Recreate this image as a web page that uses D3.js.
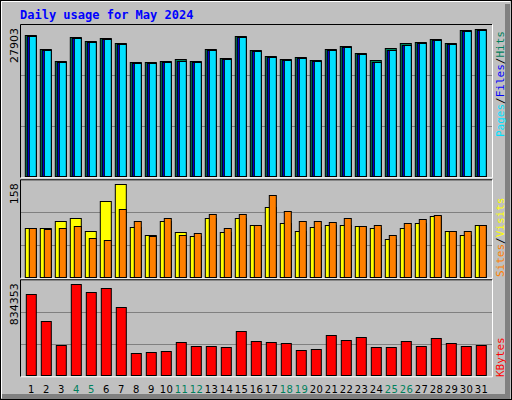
<!DOCTYPE html>
<html><head><meta charset="utf-8">
<script src="https://cdn.jsdelivr.net/npm/d3@7"></script>
<style>body{margin:0;background:#fff}</style>
</head><body><div class="chart"></div>
<script>
// data
var days = d3.range(1, 32);
var weekend = [4, 5, 11, 12, 18, 19, 25, 26];
var hits = [26826,24106,21828,26384,25624,26194,25245,21638,21638,21828,22208,21828,24106,22398,26573,23916,22777,22208,22587,22018,24106,24675,23346,22018,24296,25245,25435,26004,25245,27712,27903];
var files = [26640,23920,21640,26200,25440,26000,25060,21450,21450,21640,21830,21640,23920,22200,26380,23730,22580,22020,22400,21830,23920,24480,23160,21640,23920,24860,25250,25820,25060,27520,27710];
var pages = files;
var visits = [83,83,96,100,79,129,158,85,71,96,76,69,101,76,101,89,120,91,78,85,89,89,86,83,64,83,91,103,78,71,89];
var sites = [84,81,83,86,66,62,115,95,69,100,71,74,108,83,108,89,139,113,95,96,93,100,86,88,71,91,98,106,78,78,89];
var kbytes = [742600,495100,275000,834353,761000,797600,623400,201700,210900,220000,302500,265900,265900,256700,403400,311700,302500,293400,229200,238400,366700,320900,348400,256700,256700,311700,265900,339200,293400,265900,275000];

var W = 512, H = 400;
var svg = d3.select(".chart").append("svg").attr("width", W).attr("height", H)
  .style("font-family", "DejaVu Sans");

// background + bevel
svg.append("rect").attr("width", W).attr("height", H).attr("fill", "#c0c0c0");
svg.append("rect").attr("x", 0.5).attr("y", 0.5).attr("width", W - 1).attr("height", H - 1)
  .attr("fill", "none").attr("stroke", "#000");
svg.append("path").attr("d", "M1.5,398V1.5H510").attr("stroke", "#fff").attr("fill", "none");
svg.append("path").attr("d", "M2,396.5H507.5V4").attr("stroke", "#808080").attr("stroke-width", 5).attr("fill", "none");

svg.append("text").attr("x", 20).attr("y", 19).attr("fill", "#0000ff")
  .style("font-family", "DejaVu Sans Mono").style("font-weight", "bold").style("font-size", "12px")
  .text("Daily usage for May 2024");

var x = d3.scaleBand().domain(days).range([22.8, 487.8]);

var panels = [
  {top: 25, bottom: 176.3, max: 27903, extra: 151 / 147},
  {top: 180.3, bottom: 276.7, max: 158, extra: 96.4 / 92.4},
  {top: 280.3, bottom: 375.3, max: 834353, extra: 95 / 91}
];

panels.forEach(function (p) {
  p.y = d3.scaleLinear().domain([0, p.max * p.extra]).range([p.bottom, p.top]);
  var h = p.bottom - p.top;
  // plot frame (inset)
  svg.append("path").attr("d", `M20.5,${p.bottom + 1.5}V${p.top - 0.5}H492`).attr("stroke", "#000").attr("fill", "none");
  svg.append("path").attr("d", `M20.5,${p.bottom + 1.5}H492.5V${p.top - 0.5}`).attr("stroke", "#fff").attr("fill", "none");
  [1, 2].forEach(function (k) {
    var gy = Math.round(p.bottom - h * k / 3) + 0.5;
    svg.append("line").attr("x1", 21).attr("x2", 492).attr("y1", gy).attr("y2", gy).attr("stroke", "#808080");
  });
  svg.append("text").attr("transform", `translate(18,${p.top + 3}) rotate(-90)`)
    .attr("text-anchor", "end").style("font-size", "11px").attr("fill", "#000")
    .text(d3.format("d")(p.max));
});

function bars(data, panel, dx, w, color) {
  var y = panels[panel].y;
  svg.append("g").selectAll("rect").data(data).enter().append("rect")
    .attr("x", (d, i) => x(days[i]) + dx + 0.5)
    .attr("y", d => Math.round(y(d)) + 0.5)
    .attr("width", w)
    .attr("height", d => Math.round(panels[panel].bottom) - Math.round(y(d)))
    .attr("fill", color).attr("stroke", "#000");
}

bars(hits, 0, 2, 11, "#00805c");
bars(files, 0, 4, 9, "#0000ff");
bars(pages, 0, 6, 7, "#00e0ff");
bars(visits, 1, 2, 11, "#ffff00");
bars(sites, 1, 6, 7, "#ff8000");
bars(kbytes, 2, 3, 10, "#ff0000");

// day labels
svg.append("g").selectAll("text").data(days).enter().append("text")
  .attr("x", d => x(d) + 8.5).attr("y", 393).attr("text-anchor", "middle")
  .style("font-size", "10px").attr("textLength", d => d > 9 ? 13 : null)
  .attr("fill", d => weekend.indexOf(d) >= 0 ? "#00805c" : "#000")
  .text(d => d);

// right side legends
function legend(cy, parts) {
  var t = svg.append("text").attr("transform", `translate(504,${cy}) rotate(-90)`)
    .style("font-family", "DejaVu Sans Mono").style("font-size", "11px");
  parts.forEach(function (pt) { t.append("tspan").attr("fill", pt[1]).text(pt[0]); });
}
legend(137, [["Pages", "#00e0ff"], ["/", "#000"], ["Files", "#0000ff"], ["/", "#000"], ["Hits", "#00805c"]]);
legend(277, [["Sites", "#ff8000"], ["/", "#000"], ["Visits", "#ffff00"]]);
legend(377, [["KBytes", "#ff0000"]]);
</script></body></html>
